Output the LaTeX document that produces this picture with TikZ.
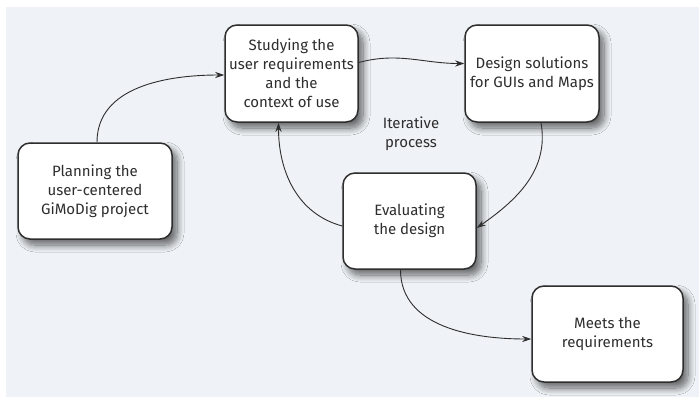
\documentclass[tikz,border=0pt]{standalone}
\usepackage{fontspec}
\setmainfont{Fira Sans}
\usetikzlibrary{arrows.meta,shadows.blur}
\definecolor{panelColor}{HTML}{EFF3F7}
\definecolor{inkColor}{HTML}{2E2E2E}

\begin{document}
\begin{tikzpicture}[%%
  x=1pt,y=-1pt,
  boxStyle/.style={draw=inkColor,line width=1.5pt,fill=white,rounded corners=12pt,
    align=center,text=inkColor,inner sep=0pt,
    blur shadow={shadow xshift=5pt,shadow yshift=-6pt,shadow blur steps=10,
      shadow blur radius=7pt,shadow opacity=60}},%%
  arrowStyle/.style={-{Stealth[length=9pt,width=6pt]},inkColor,line width=0.9pt},%%
  textStyle/.style={align=center,text=inkColor}
]
\fontsize{15}{19}\selectfont
%%
%% The picture area and the grey panel.
\useasboundingbox (0,0) rectangle (699,399);
\fill[panelColor] (6,7) rectangle (699,397);
%%
%% The steps of the process.
\node[boxStyle,minimum width=133pt,minimum height=97pt] (study) at (291.5,73.5)
  {Studying the\\user requirements\\and the\\context of use};
\node[boxStyle,minimum width=134pt,minimum height=97pt] (design) at (532,73.5)
  {Design solutions\\for GUIs and Maps};
\node[boxStyle,minimum width=154pt,minimum height=96pt] (plan) at (95,191)
  {Planning the\\user-centered\\GiMoDig project};
\node[boxStyle,minimum width=133pt,minimum height=96pt] (evaluate) at (409.5,221)
  {Evaluating\\the design};
\node[boxStyle,minimum width=151pt,minimum height=96pt] (meets) at (607.5,334)
  {Meets the\\requirements};
%%
%% The label in the loop.
\node[textStyle] (loop) at (411,134) {Iterative\\process};
%%
%% The connectors.
\draw[arrowStyle] ([xshift=2pt]plan.north) to[out=90,in=180] ([yshift=-1.5pt]study.west);
\draw[arrowStyle] ([yshift=11pt]study.east) to[out=15,in=180] ([yshift=10pt]design.west);
\draw[arrowStyle] ([xshift=9pt]design.south) to[out=-80,in=35] ([yshift=-7pt]evaluate.east);
\draw[arrowStyle] ([yshift=-5pt]evaluate.west) to[out=165,in=-90] ([xshift=-13pt]study.south);
\draw[arrowStyle] ([xshift=-9pt]evaluate.south) to[out=-90,in=180] ([yshift=-5pt]meets.west);
\end{tikzpicture}
\end{document}
